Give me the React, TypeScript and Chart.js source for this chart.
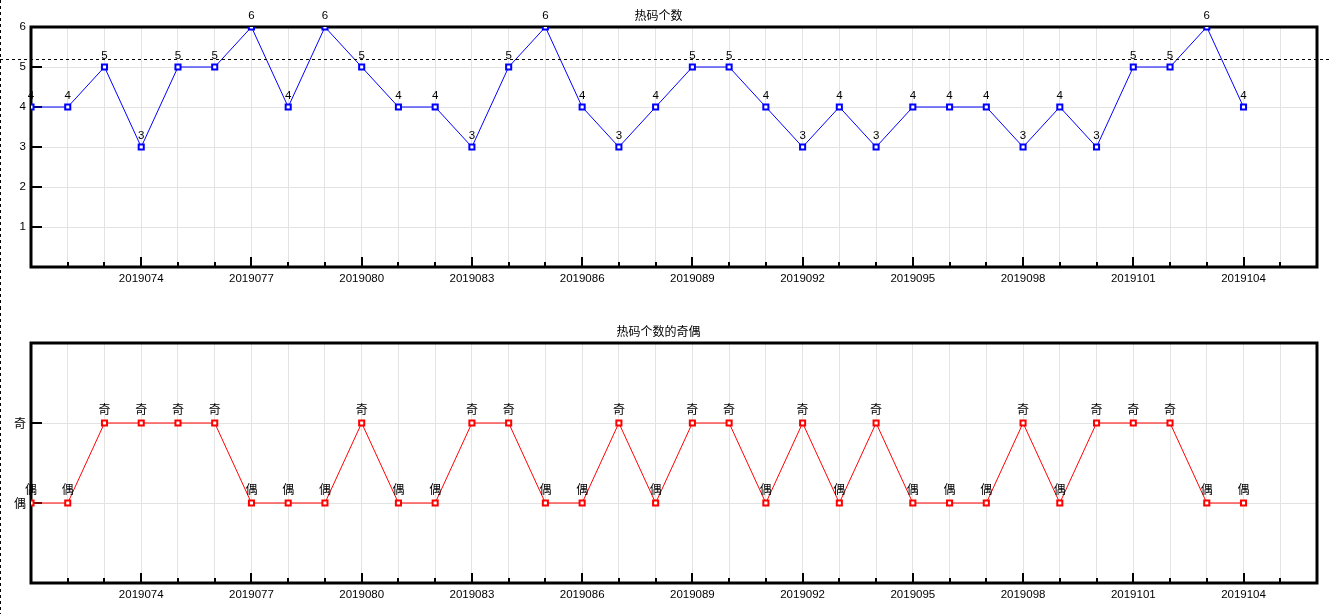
import { useEffect, useRef } from 'react';
import { Chart, registerables } from 'chart.js';

Chart.register(...registerables);

// ---- data ----
const periods = [
  '2019071', '2019072', '2019073', '2019074', '2019075', '2019076', '2019077', '2019078', '2019079', '2019080',
  '2019081', '2019082', '2019083', '2019084', '2019085', '2019086', '2019087', '2019088', '2019089', '2019090',
  '2019091', '2019092', '2019093', '2019094', '2019095', '2019096', '2019097', '2019098', '2019099', '2019100',
  '2019101', '2019102', '2019103', '2019104',
];
const hotCounts = [4, 4, 5, 3, 5, 5, 6, 4, 6, 5, 4, 4, 3, 5, 6, 4, 3, 4, 5, 5, 4, 3, 4, 3, 4, 4, 4, 3, 4, 3, 5, 5, 6, 4];
const parity = [
  '偶', '偶', '奇', '奇', '奇', '奇', '偶', '偶', '偶', '奇',
  '偶', '偶', '奇', '奇', '偶', '偶', '奇', '偶', '奇', '奇',
  '偶', '奇', '偶', '奇', '偶', '偶', '偶', '奇', '偶', '奇',
  '奇', '奇', '偶', '偶',
];
const parityLevels = ['', '偶', '奇', '']; // y level -> label
const topYTicks = ['', '1', '2', '3', '4', '5', '6'];
const xAxisMax = 35; // axis runs two periods past the last one
const labelEvery = 3;
const topTitle = '热码个数';
const bottomTitle = '热码个数的奇偶';
const crosshairValue = 5.2;

const CJK = '"Noto Sans CJK SC"';
const LATIN = '"Liberation Sans"';
const GRID = '#e3e3e3';

type Spec = {
  title: string;
  padTop: number;
  xAxisHeight: number;
  yMax: number;
  values: number[];
  pointLabels: string[];
  yLabels: string[];
  color: string;
  yFont: any;
  labelFont: string;
  labelOffset: number;
  crosshair?: number;
};

function isMajor(v: number) {
  return v > 0 && v % labelEvery === 0 && !!periods[v];
}

function buildChart(canvas: HTMLCanvasElement, s: Spec) {
  const framePlugin = {
    id: 'frame',
    beforeDatasetsDraw(chart: any) {
      const { ctx, chartArea: a, scales } = chart;
      const xs = scales.x;
      const ys = scales.y;
      ctx.save();
      ctx.strokeStyle = '#000';
      ctx.lineWidth = 2;
      ys.ticks.forEach((t: any) => {
        if (!s.yLabels[t.value]) return;
        const py = Math.round(ys.getPixelForValue(t.value));
        ctx.beginPath();
        ctx.moveTo(a.left, py);
        ctx.lineTo(a.left + 11, py);
        ctx.stroke();
      });
      xs.ticks.forEach((t: any) => {
        if (t.value <= 0 || t.value >= xAxisMax) return;
        const px = Math.round(xs.getPixelForValue(t.value));
        const len = isMajor(t.value) ? 10 : 5;
        ctx.beginPath();
        ctx.moveTo(px, a.bottom);
        ctx.lineTo(px, a.bottom - len);
        ctx.stroke();
      });
      ctx.lineWidth = 3;
      ctx.strokeRect(a.left, a.top, a.right - a.left, a.bottom - a.top);
      ctx.restore();
    },
  };

  const labelPlugin = {
    id: 'pointLabels',
    afterDatasetsDraw(chart: any) {
      const ctx = chart.ctx;
      const meta = chart.getDatasetMeta(0);
      ctx.save();
      ctx.fillStyle = '#000';
      ctx.font = s.labelFont;
      ctx.textAlign = 'center';
      ctx.textBaseline = 'alphabetic';
      meta.data.forEach((el: any, i: number) => {
        ctx.fillText(s.pointLabels[i], el.x, el.y - s.labelOffset);
      });
      ctx.restore();
    },
  };

  const crossPlugin = {
    id: 'crosshair',
    afterDraw(chart: any) {
      const ctx = chart.ctx;
      ctx.save();
      ctx.strokeStyle = '#000';
      ctx.lineWidth = 1;
      ctx.setLineDash([3, 3]);
      ctx.beginPath();
      ctx.moveTo(0.5, 0);
      ctx.lineTo(0.5, chart.height);
      ctx.stroke();
      if (s.crosshair !== undefined) {
        const py = Math.round(chart.scales.y.getPixelForValue(s.crosshair)) + 0.5;
        ctx.beginPath();
        ctx.moveTo(0, py);
        ctx.lineTo(chart.width, py);
        ctx.stroke();
      }
      ctx.restore();
    },
  };

  return new Chart(canvas, {
    type: 'line',
    data: {
      datasets: [
        {
          data: s.values.map((v, i) => ({ x: i, y: v })),
          borderColor: s.color,
          borderWidth: 1,
          pointStyle: 'rect',
          pointRadius: 3.6,
          pointBorderWidth: 2,
          pointBorderColor: s.color,
          pointBackgroundColor: '#fff',
          tension: 0,
          fill: false,
        },
      ],
    },
    options: {
      animation: false,
      responsive: false,
      devicePixelRatio: 1,
      events: [],
      layout: { padding: { left: 0, right: 12, top: s.padTop, bottom: 0 } },
      plugins: {
        legend: { display: false },
        tooltip: { enabled: false },
        title: {
          display: true,
          text: s.title,
          color: '#000',
          font: { family: CJK, size: 12, weight: 'normal', lineHeight: 1.25 },
          padding: { top: 8, bottom: 4 },
        },
      },
      scales: {
        x: {
          type: 'linear',
          min: 0,
          max: xAxisMax,
          afterFit: (sc: any) => {
            sc.height = s.xAxisHeight;
          },
          border: { display: false },
          grid: { color: GRID, lineWidth: 1, drawTicks: false },
          ticks: {
            stepSize: 1,
            maxTicksLimit: 100,
            autoSkip: false,
            maxRotation: 0,
            padding: 5,
            color: '#000',
            font: { family: LATIN, size: 11.5 },
            callback: (v: any) => (isMajor(Number(v)) ? periods[Number(v)] : ''),
          },
        },
        y: {
          type: 'linear',
          min: 0,
          max: s.yMax,
          afterFit: (sc: any) => {
            sc.width = 31;
          },
          border: { display: false },
          grid: { color: GRID, lineWidth: 1, drawTicks: false },
          ticks: {
            stepSize: 1,
            padding: 5,
            color: '#000',
            font: s.yFont,
            callback: (v: any) => s.yLabels[Number(v)] ?? '',
          },
        },
      },
    },
    plugins: [framePlugin, labelPlugin, crossPlugin],
  } as any);
}

export default function App() {
  const topRef = useRef<HTMLCanvasElement>(null);
  const botRef = useRef<HTMLCanvasElement>(null);

  useEffect(() => {
    const c1 = buildChart(topRef.current!, {
      title: topTitle,
      padTop: 0,
      xAxisHeight: 40,
      yMax: 6,
      values: hotCounts,
      pointLabels: hotCounts.map(String),
      yLabels: topYTicks,
      color: '#0000ff',
      yFont: { family: LATIN, size: 11.5 },
      labelFont: `11.5px ${LATIN}`,
      labelOffset: 8,
      crosshair: crosshairValue,
    });
    const c2 = buildChart(botRef.current!, {
      title: bottomTitle,
      padTop: 9,
      xAxisHeight: 31,
      yMax: 3,
      values: parity.map((p) => parityLevels.indexOf(p)),
      pointLabels: parity,
      yLabels: parityLevels,
      color: '#ff0000',
      yFont: { family: CJK, size: 12 },
      labelFont: `12px ${CJK}`,
      labelOffset: 9,
    });
    return () => {
      c1.destroy();
      c2.destroy();
    };
  }, []);

  return (
    <div style={{ position: 'absolute', left: 0, top: 0, width: 1329, height: 614, background: '#fff' }}>
      <canvas ref={topRef} width={1329} height={307} style={{ display: 'block', width: 1329, height: 307 }} />
      <canvas ref={botRef} width={1329} height={307} style={{ display: 'block', width: 1329, height: 307 }} />
    </div>
  );
}
